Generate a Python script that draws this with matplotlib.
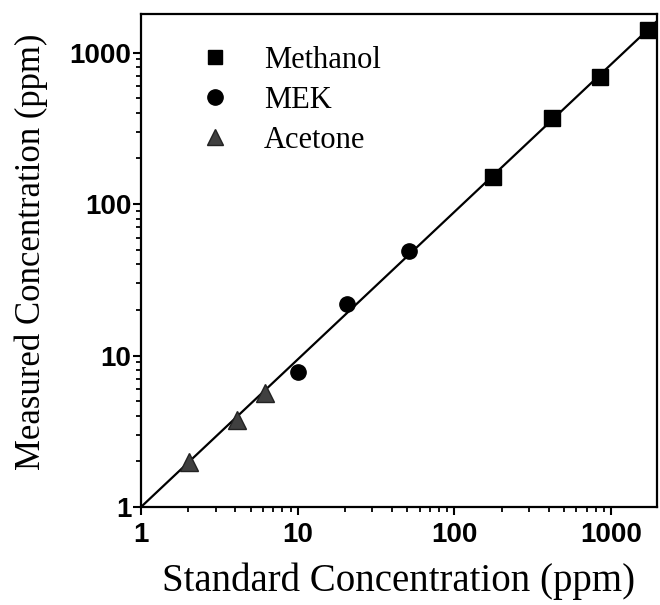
import matplotlib
matplotlib.use("Agg")
import matplotlib.pyplot as plt
from matplotlib.lines import Line2D
from matplotlib.ticker import LogLocator, FixedLocator, NullFormatter

# Data
methanol_std = [177, 421, 851, 1721]
methanol_meas = [151, 370, 689, 1408]
mek_std = [10.1, 20.5, 51]
mek_meas = [7.8, 21.9, 49]
acetone_std = [2.02, 4.09, 6.17]
acetone_meas = [1.98, 3.75, 5.65]
fit_x = [1, 2000]
fit_y = [1, 1640]
major_ticks = [1, 10, 100, 1000]
tick_labels = ["1", "10", "100", "1000"]
series_names = ["Methanol", "MEK", "Acetone"]

serif = ["Liberation Serif", "DejaVu Serif"]
sans = ["Liberation Sans", "DejaVu Sans"]

fig = plt.figure(figsize=(6.6, 6.05), dpi=100)
ax = fig.add_axes([141/660, 1 - 507/605, (657 - 141)/660, (507 - 14)/605])
ax.set_xscale("log")
ax.set_yscale("log")
ax.set_xlim(1, 1965)
ax.set_ylim(1, 1796)

ax.plot(fit_x, fit_y, color="black", lw=1.6, zorder=2)
ax.plot(methanol_std, methanol_meas, ls="none", marker="s", ms=12, color="black", zorder=3)
ax.plot(mek_std, mek_meas, ls="none", marker="o", ms=11, color="black", zorder=3)
ax.plot(acetone_std, acetone_meas, ls="none", marker="^", ms=13, color="#404040",
        markeredgecolor="#222222", zorder=3)

for s in ["left", "bottom", "top", "right"]:
    ax.spines[s].set_linewidth(1.6)

ax.xaxis.set_major_locator(FixedLocator(major_ticks))
ax.yaxis.set_major_locator(FixedLocator(major_ticks))
ax.set_xticklabels(tick_labels)
ax.set_yticklabels(tick_labels)
ax.xaxis.set_minor_locator(LogLocator(base=10, subs=range(2, 10)))
ax.yaxis.set_minor_locator(LogLocator(base=10, subs=range(2, 10)))
ax.xaxis.set_minor_formatter(NullFormatter())
ax.yaxis.set_minor_formatter(NullFormatter())
ax.tick_params(which="major", direction="out", length=6, width=1.5, top=False, right=False)
ax.tick_params(which="minor", direction="out", length=3.5, width=1.3, top=False, right=False)
ax.tick_params(axis="x", which="major", pad=5)
ax.tick_params(axis="y", which="major", pad=1)
for lab in ax.get_xticklabels() + ax.get_yticklabels():
    lab.set_fontfamily(sans)
    lab.set_fontweight("bold")
    lab.set_fontsize(20)

ax.set_xlabel("Standard Concentration (ppm)", fontfamily=serif, fontsize=28, labelpad=10)
ax.set_ylabel("Measured Concentration (ppm)", fontfamily=serif, fontsize=25)
ax.yaxis.set_label_coords(-0.18, 0.517)

handles = [
    Line2D([], [], ls="none", marker="s", ms=10, color="black"),
    Line2D([], [], ls="none", marker="o", ms=11, color="black"),
    Line2D([], [], ls="none", marker="^", ms=12, color="#404040", markeredgecolor="#222222"),
]
leg = ax.legend(handles, series_names, loc="upper left", bbox_to_anchor=(0.07, 0.966),
                frameon=False, prop={"family": serif, "size": 22},
                handletextpad=0.85, labelspacing=0.36, borderpad=0, handlelength=1.5)

fig.savefig("out.png", dpi=100)
